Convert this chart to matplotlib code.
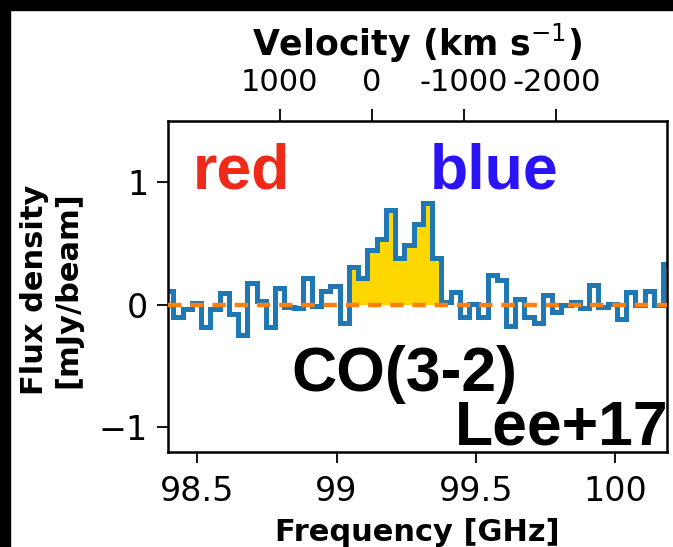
import numpy as np
import matplotlib.pyplot as plt
from matplotlib.patches import Rectangle

# CO(3-2) spectrum, one value per channel [mJy/beam]
flux = [0.114, -0.10, -0.035, 0.014, -0.18, -0.035, 0.095, -0.076, -0.25, 0.176,
        0.03, -0.18, 0.14, -0.02, -0.03, 0.22, -0.01, 0.11, 0.15, -0.15,
        0.31, 0.22, 0.45, 0.54, 0.77, 0.38, 0.49, 0.66, 0.83, 0.38,
        0.02, 0.10, -0.10, 0.01, -0.10, 0.24, 0.20, -0.17, 0.05, -0.10,
        -0.15, 0.08, -0.06, 0.00, 0.02, -0.03, 0.16, -0.02, 0.01, -0.12,
        0.10, 0.00, 0.11, 0.00, 0.33]
freq_start = 98.382   # GHz, low edge of first channel
chan_width = 0.03312  # GHz
line_chans = (20, 30)  # channels with line emission
nu_obs = 99.127        # GHz, systemic
c_kms = 299792.458

vel_ticks = [1000, 0, -1000, -2000]
vel_labels = ['1000', '0', '-1000', '-2000']

edges = freq_start + chan_width * np.arange(len(flux) + 1)
flux = np.array(flux)

fig = plt.figure(figsize=(6.73, 5.47), dpi=100)
ax = fig.add_axes([0.249, 0.174, 0.742, 0.605])

lo, hi = line_chans
ax.stairs(flux[lo:hi], edges[lo:hi + 1], fill=True, baseline=0,
          color='#ffd700', zorder=1)
ax.stairs(flux, edges, baseline=None, color='#1f77b4', lw=3.6, zorder=2)
ax.axhline(0, color='#ff7f0e', lw=3.2, ls=(0, (3, 2)), zorder=3)

ax.set_xlim(98.394, 100.1845)
ax.set_ylim(-1.2, 1.5)
ax.set_xticks([98.5, 99, 99.5, 100])
ax.set_xticklabels(['98.5', '99', '99.5', '100'])
ax.set_yticks([-1, 0, 1])
ax.tick_params(labelsize=24, length=8, width=1.3, pad=6)
ax.tick_params(axis='x', pad=9)
for s in ax.spines.values():
    s.set_linewidth(1.8)

ax.set_xlabel('Frequency [GHz]', fontsize=22, fontweight='bold')
ax.xaxis.set_label_coords(0.5, -0.2)
ax.set_ylabel('Flux density\n[mJy/beam]', fontsize=22, fontweight='bold')
ax.yaxis.set_label_coords(-0.171, 0.49)

# velocity axis on top
def f2v(nu):
    return c_kms * (nu_obs - nu) / nu_obs

def v2f(v):
    return nu_obs * (1 - v / c_kms)

top = ax.secondary_xaxis('top', functions=(f2v, v2f))
top.set_xticks(vel_ticks, labels=vel_labels)
top.tick_params(labelsize=22, length=9, width=1.3, pad=8)
top.set_xlabel('Velocity (km s$^{-1}$)', fontsize=25, fontweight='bold', labelpad=9)

txt = dict(family='Liberation Sans', fontweight='bold', fontsize=45)
ax.text(98.486, 0.95, 'red', color='#f02a1a', **txt)
ax.text(99.335, 0.95, 'blue', color='#2a14f5', **txt)
ax.text(98.837, -0.707, 'CO(3-2)', color='black', **txt)
ax.text(99.425, -1.138, 'Lee+17', color='black', **txt)

# black frame edges
fig.patches.append(Rectangle((0, 0), 10 / 673, 1, transform=fig.transFigure,
                             color='black', zorder=10))
fig.patches.append(Rectangle((0, 1 - 10 / 547), 1, 10 / 547, transform=fig.transFigure,
                             color='black', zorder=10))

fig.savefig('out.png', dpi=100)
